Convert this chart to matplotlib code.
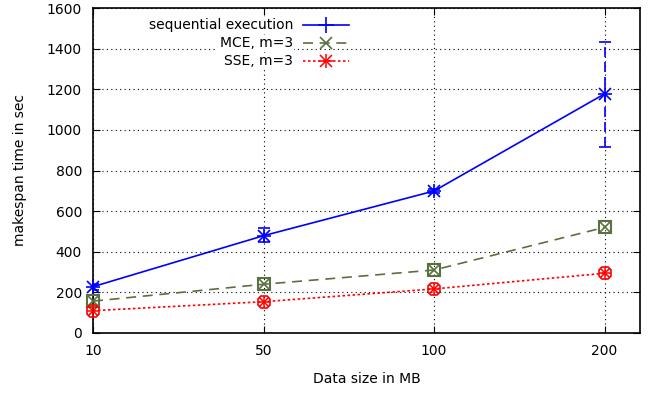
import matplotlib
matplotlib.use("Agg")
import matplotlib.pyplot as plt
import numpy as np

categories = ["10", "50", "100", "200"]
seq = [228, 479, 699, 1177]
seq_err_lo = [15, 30, 10, 260]
seq_err_hi = [15, 40, 10, 257]
mce = [157, 240, 310, 520]
sse = [110, 154, 217, 294]

plt.rcParams['font.family'] = ['DejaVu Sans']
fig = plt.figure(figsize=(6.59, 3.94), dpi=100)
ax = fig.add_axes([93/659, 1-333/394, 547/659, 325/394])

x = np.arange(len(categories))
blue = '#0000ff'
olive = '#5a7040'
red = '#ff0000'

# sequential
eb = ax.errorbar(x, seq, yerr=[seq_err_lo, seq_err_hi], fmt='none', ecolor=blue,
                 elinewidth=1.2, capsize=4, capthick=1.2, zorder=3)
for c in eb[2]:
    c.set_linestyle((0, (6, 3)))
ax.plot(x, seq, color=blue, lw=1.2, marker='+', ms=10, mew=1.2, zorder=4, clip_on=False)
ax.plot(x, seq, ls='none', color=blue, marker='x', ms=8, mew=1.2, zorder=4, clip_on=False)

# MCE
ax.plot(x, mce, color=olive, lw=1.2, dashes=(6, 4), marker='x', ms=7, mew=1.2, zorder=4, clip_on=False)
ax.plot(x, mce, ls='none', color=olive, marker='s', ms=9, mfc='none', mew=1.5, zorder=4, clip_on=False)

# SSE
ax.plot(x, sse, color=red, lw=1.2, dashes=(1.5, 1.5), marker='+', ms=9, mew=1.1, zorder=4, clip_on=False)
ax.plot(x, sse, ls='none', color=red, marker='x', ms=7, mew=1.1, zorder=4, clip_on=False)
ax.plot(x, sse, ls='none', color=red, marker='8', ms=10, mfc='none', mew=1.2, zorder=4, clip_on=False)

ax.set_xlim(0, 547/170.5)
ax.set_ylim(0, 1600)
ax.set_xticks(x)
ax.set_xticklabels(categories)
ax.set_yticks(np.arange(0, 1601, 200))
ax.tick_params(direction='in', top=True, right=True, labelsize=10, length=5, pad=8)
ax.grid(True, color='black', linestyle=(0, (1, 3)), lw=0.8)
for s in ax.spines.values():
    s.set_linewidth(1.2)

ax.set_xlabel("Data size in MB", fontsize=10, labelpad=10)
ax.set_ylabel("makespan time in sec", fontsize=10, labelpad=14)

# manual gnuplot-style key
tx = 0.3656
lx0, lx1 = 0.384, 0.468
rows = [0.9477, 0.8923, 0.8369]
names = ["sequential execution", "MCE, m=3", "SSE, m=3"]
for yy, name in zip(rows, names):
    ax.text(tx, yy, name, transform=ax.transAxes, ha='right', va='center', fontsize=10,
            bbox=dict(facecolor='white', edgecolor='none', pad=1), zorder=5)
xm = (lx0 + lx1) / 2
ax.plot([lx0, lx1], [rows[0]]*2, transform=ax.transAxes, color=blue, lw=1.2, zorder=6)
ax.plot([xm], [rows[0]], transform=ax.transAxes, color=blue, marker='+', ms=11, mew=1.2, zorder=6)
ax.plot([lx0, lx1], [rows[1]]*2, transform=ax.transAxes, color=olive, lw=1.2, dashes=(6, 4), zorder=6)
ax.plot([xm], [rows[1]], transform=ax.transAxes, color=olive, marker='x', ms=8, mew=1.2, zorder=6)
ax.plot([lx0, lx1], [rows[2]]*2, transform=ax.transAxes, color=red, lw=1.2, dashes=(1.5, 1.5), zorder=6)
ax.plot([xm], [rows[2]], transform=ax.transAxes, color=red, marker='+', ms=10, mew=1.1, zorder=6)
ax.plot([xm], [rows[2]], transform=ax.transAxes, color=red, marker='x', ms=8, mew=1.1, zorder=6)

fig.savefig("out.png", dpi=100)
